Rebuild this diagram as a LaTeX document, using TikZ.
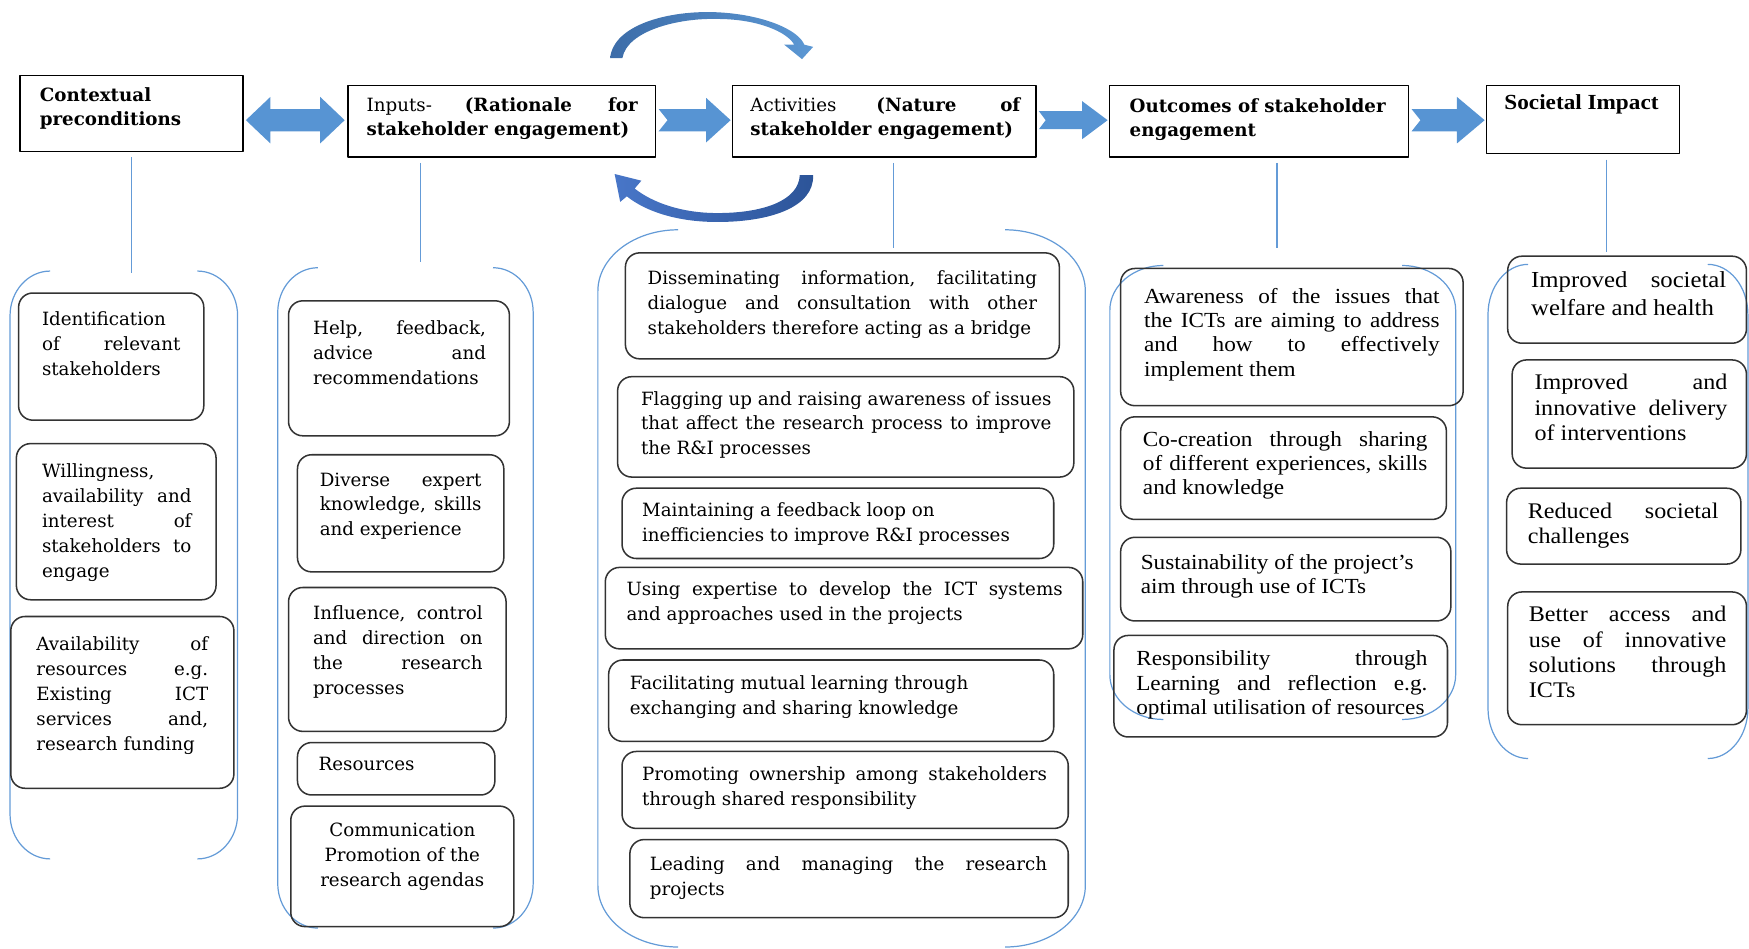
\documentclass[tikz,border=0pt]{standalone}
\usepackage{fontspec}
\setmainfont{DejaVu Serif}
\newfontfamily\camb[FakeStretch=1.08]{Liberation Serif}
\usetikzlibrary{calc}
\frenchspacing

\definecolor{arrowblue}{RGB}{87,148,211}
\definecolor{linkblue}{RGB}{100,155,215}
\definecolor{cvdark}{RGB}{60,108,168}
\definecolor{cvlight}{RGB}{92,152,212}
\definecolor{cbdark}{RGB}{44,84,152}
\definecolor{cblight}{RGB}{72,118,200}

% one drawing unit
\newdimen\unitpx \unitpx=0.55pt
\def\topoff{8}
\def\boxfont{\fontsize{9}{12.3}\selectfont}

% #1 name, #2-#5 box corners, #6-#7 text left/right, #8 first line middle, #9 text
\newcommand\tbox[9]{%
  \node[cur, anchor=north west] (#1) at (#2,#3)
  {\parbox[t][\dimexpr\unitpx*(#5-#3)\relax][t]{\dimexpr\unitpx*(#4-#2)\relax}{%
    \vspace*{\dimexpr\unitpx*(#8-#3-\topoff)\relax}%
    \leftskip=\dimexpr\unitpx*(#6-#2)\relax
    \rightskip=\dimexpr\unitpx*(#4-#7)\relax
    \boxfont #9\par}};}

% rounded bracket pair round a column: xl, xr, top, bottom, dx, dy
\newcommand\bracketpair[6]{%
  \draw[brk] (#1+#5,#3) .. controls (#1+0.448*#5,#3) and (#1,#3+0.448*#6) .. (#1,#3+#6)
    -- (#1,#4-#6) .. controls (#1,#4-0.448*#6) and (#1+0.448*#5,#4) .. (#1+#5,#4);
  \draw[brk] (#2-#5,#3) .. controls (#2-0.448*#5,#3) and (#2,#3+0.448*#6) .. (#2,#3+#6)
    -- (#2,#4-#6) .. controls (#2,#4-0.448*#6) and (#2-0.448*#5,#4) .. (#2-#5,#4);}

% notched block arrow: from, to, shaft half height, head half height, head length, notch
\newcommand\notched[6]{%
  \fill[barrow] let \p1=#1, \p2=#2 in
    (\x1,\y1+#3) -- (\x2-#5,\y1+#3) -- (\x2-#5,\y1+#4) -- (\x2,\y1)
    -- (\x2-#5,\y1-#4) -- (\x2-#5,\y1-#3) -- (\x1,\y1-#3) -- (\x1+#6,\y1) -- cycle;}

\begin{document}
\begin{tikzpicture}[x=0.55pt, y=-0.55pt, line join=round,
  rbox/.style={draw=black!80, line width=0.75pt, rounded corners=7pt, inner sep=0pt},
  hbox/.style={draw=black, line width=0.8pt, inner sep=0pt},
  cur/.style=hbox,
  brk/.style={draw=linkblue, line width=0.6pt},
  vline/.style={draw=linkblue, line width=0.7pt},
  barrow/.style={fill=arrowblue}]
\useasboundingbox (0,0) rectangle (1568,850);

% ---------- column headings ----------
\def\boxfont{\fontsize{9}{11.8}\selectfont}
\tbox{h1}{17}{67}{217}{135}{35}{210}{86}{\bfseries Contextual\\preconditions}
\tbox{h2}{311}{76}{587}{140}{328}{571}{95}{Inputs- {\bfseries (Rationale for\linebreak stakeholder engagement)}}
\tbox{h3}{656}{76}{928}{140}{672}{914}{95}{Activities {\bfseries (Nature of\linebreak stakeholder engagement)}}
\tbox{h4}{994}{76}{1262}{140}{1012}{1252}{96}{\bfseries Outcomes of stakeholder\\engagement}
\def\topoff{9}
\tbox{h5}{1332}{76}{1505}{137}{1348}{1500}{93}{\camb\fontsize{10.6}{12}\selectfont\bfseries Societal Impact}

% ---------- block arrows between headings ----------
\fill[barrow] let \p1=($(h1.east |- h2.west)+(2,-1)$), \p2=($(h2.west)+(-2,-1)$) in
  (\x1,\y1) -- (\x1+12.1pt,\y1+11.5pt) -- (\x1+12.1pt,\y1+5.5pt) -- (\x2-12.1pt,\y1+5.5pt)
  -- (\x2-12.1pt,\y1+11.5pt) -- (\x2,\y1) -- (\x2-12.1pt,\y1-11.5pt) -- (\x2-12.1pt,\y1-5.5pt)
  -- (\x1+12.1pt,\y1-5.5pt) -- (\x1+12.1pt,\y1-11.5pt) -- cycle;
\notched{($(h2.east)+(2,-1)$)}{($(h3.west)+(-1,-1)$)}{5.5pt}{11pt}{12.1pt}{4.4pt}
\notched{($(h3.east)+(2,-1)$)}{($(h4.west)+(-1,-1)$)}{4.4pt}{9.4pt}{12.6pt}{3.3pt}
\notched{($(h4.east)+(2,-1)$)}{($(h5.west)+(-1,-1)$)}{5.5pt}{11.5pt}{13.7pt}{4.4pt}

% ---------- feedback loop round the activities heading ----------
\shade[left color=cvdark, right color=cvlight]
  (547,52) .. controls (550,22) and (600,9) .. (643,11)
  .. controls (685,13) and (716,27) .. (721,40) -- (729,42) -- (719,53) -- (703,40) -- (712,40)
  .. controls (706,29) and (680,17) .. (643,17)
  .. controls (607,16) and (562,28) .. (558,52) -- cycle;
\shade[left color=cblight, right color=cbdark]
  (729,157) .. controls (730,186) and (690,199) .. (643,199)
  .. controls (606,199) and (578,189) .. (562,176) -- (556,181) -- (551,156) -- (575,162) -- (569,169)
  .. controls (584,181) and (610,191) .. (643,191)
  .. controls (684,191) and (716,180) .. (717,157) -- cycle;

% ---------- column brackets ----------
\bracketpair{9}{213}{243}{770}{36}{40}
\bracketpair{249}{478}{240}{832}{36}{40}
\bracketpair{536}{973}{206}{849}{72}{55}
\bracketpair{995}{1305}{238}{645}{48}{40}
\bracketpair{1334}{1567}{237}{680}{36}{45}

% ---------- links from headings to columns ----------
\coordinate (t1) at (118,245);
\coordinate (t2) at (377,235);
\coordinate (t3) at (801,222);
\coordinate (t4) at (1145,222);
\coordinate (t5) at (1440,226);
\foreach \i in {1,...,5} \draw[vline, shorten <=2.5pt] (h\i.south -| t\i) -- (t\i);

% ---------- column items ----------
\tikzset{cur/.style=rbox}
\def\topoff{8}
\def\boxfont{\fontsize{9}{12.3}\selectfont}
\tbox{c1a}{16}{262}{182}{376}{37}{161}{287}{Identification\linebreak of relevant\linebreak stakeholders}
\tbox{c1b}{14}{397}{193}{537}{37}{171}{423}{Willingness,\linebreak availability and\linebreak interest of\linebreak stakeholders to\linebreak engage}
\tbox{c1c}{9}{552}{209}{706}{32}{186}{578}{Availability of\linebreak resources e.g.\linebreak Existing ICT\linebreak services and,\linebreak research funding}

\tbox{c2a}{258}{269}{456}{390}{280}{435}{295}{Help, feedback,\linebreak advice and\linebreak recommendations}
\tbox{c2b}{266}{407}{451}{512}{286}{431}{431}{Diverse expert\linebreak knowledge, skills\linebreak and experience}
\tbox{c2c}{258}{526}{453}{655}{280}{432}{550}{Influence, control\linebreak and direction on\linebreak the research\linebreak processes}
\tbox{c2d}{266}{665}{443}{712}{285}{440}{686}{Resources}
\tbox{c2e}{260}{722}{460}{830}{276}{440}{745}{\centering Communication\\Promotion of the\\research agendas}

\tbox{c3a}{560}{226}{949}{321}{580}{929}{250}{Disseminating information, facilitating\linebreak dialogue and consultation with other\linebreak stakeholders therefore acting as a bridge}
\tbox{c3b}{553}{337}{962}{427}{574}{942}{358}{Flagging up and raising awareness of issues\linebreak that affect the research process to improve\linebreak the R\&I processes}
\tbox{c3c}{557}{437}{944}{500}{575}{930}{458}{Maintaining a feedback loop on\\inefficiencies to improve R\&I processes}
\tbox{c3d}{542}{508}{970}{581}{561}{952}{529}{Using expertise to develop the ICT systems\linebreak and approaches used in the projects}
\tbox{c3e}{545}{591}{944}{664}{564}{930}{613}{Facilitating mutual learning through\\exchanging and sharing knowledge}
\tbox{c3f}{557}{673}{957}{742}{575}{938}{695}{Promoting ownership among stakeholders\linebreak through shared responsibility}
\tbox{c3g}{564}{752}{957}{822}{582}{938}{775}{Leading and managing the research\linebreak projects}

\def\topoff{9}
\def\boxfont{\camb\fontsize{10.6}{11.9}\selectfont}
\tbox{c4a}{1004}{240}{1311}{363}{1025}{1290}{267}{Awareness of the issues that\linebreak the ICTs are aiming to address\linebreak and how to effectively\linebreak implement them}
\tbox{c4b}{1004}{373}{1296}{465}{1024}{1279}{395}{Co-creation through sharing\linebreak of different experiences, skills\linebreak and knowledge}
\tbox{c4c}{1004}{481}{1300}{556}{1022}{1282}{505}{Sustainability of the project’s\\aim through use of ICTs}
\tbox{c4d}{998}{569}{1297}{660}{1018}{1279}{592}{Responsibility through\linebreak Learning and reflection e.g.\linebreak optimal utilisation of resources}

\def\topoff{10}
\def\boxfont{\camb\fontsize{11}{12.4}\selectfont}
\tbox{c5a}{1351}{229}{1565}{307}{1372}{1547}{253}{\fontsize{11.3}{13.7}\selectfont Improved societal\linebreak welfare and health}
\tbox{c5b}{1355}{322}{1565}{419}{1375}{1548}{345}{Improved and\linebreak innovative delivery\linebreak of interventions}
\tbox{c5c}{1350}{437}{1560}{505}{1369}{1540}{460}{Reduced societal\linebreak challenges}
\tbox{c5d}{1351}{530}{1565}{649}{1370}{1547}{553}{Better access and\linebreak use of innovative\linebreak solutions through\linebreak ICTs}
\end{tikzpicture}
\end{document}
